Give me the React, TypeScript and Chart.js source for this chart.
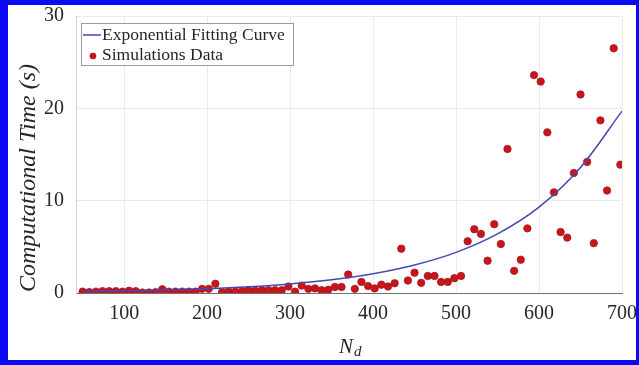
import React, { useEffect, useRef } from 'react';
import { Chart, registerables } from 'chart.js';

Chart.register(...registerables);

// Simulation data: number of devices N_d vs computational time (s)
const nValues = [
  50, 58, 66, 74, 82, 90, 98, 106, 114, 122, 130, 138, 146, 154, 162, 170, 178, 186, 194, 202,
  210, 218, 226, 234, 242, 250, 258, 266, 274, 282, 290, 298, 306, 314, 322, 330, 338, 346, 354, 362,
  370, 378, 386, 394, 402, 410, 418, 426, 434, 442, 450, 458, 466, 474, 482, 490, 498, 506, 514, 522,
  530, 538, 546, 554, 562, 570, 578, 586, 594, 602, 610, 618, 626, 634, 642, 650, 658, 666, 674, 682,
  690, 698,
];
const timeValues = [
  0.15, 0.1, 0.15, 0.2, 0.2, 0.2, 0.15, 0.25, 0.2, 0.05, 0.05, 0.1, 0.4, 0.15, 0.15, 0.15, 0.15, 0.15, 0.45, 0.45,
  1.0, 0.1, 0.15, 0.15, 0.2, 0.3, 0.25, 0.3, 0.3, 0.3, 0.3, 0.7, 0.15, 0.8, 0.45, 0.5, 0.3, 0.35, 0.65, 0.65,
  2.0, 0.45, 1.2, 0.75, 0.5, 0.9, 0.7, 1.05, 4.8, 1.35, 2.2, 1.1, 1.85, 1.85, 1.2, 1.2, 1.6, 1.85, 5.6, 6.9,
  6.4, 3.5, 7.45, 5.3, 15.6, 2.4, 3.6, 7.0, 23.6, 22.9, 17.4, 10.9, 6.6, 6.0, 13.0, 21.5, 14.2, 5.4, 18.7, 11.1,
  26.5, 13.9,
];

// Exponential fitting curve
const fitN = [50, 100, 150, 200, 250, 300, 350, 400, 450, 500, 550, 600, 650, 700];
const fitTime = [0.15, 0.22, 0.32, 0.46, 0.67, 0.98, 1.43, 2.08, 3.03, 4.4, 6.4, 9.3, 13.6, 19.7];

const xTicks = [100, 200, 300, 400, 500, 600, 700];
const yTicks = [0, 10, 20, 30];
const seriesLabels = ['Exponential Fitting Curve', 'Simulations Data'];
const yTitle = 'Computational Time (s)';
const xTitleMain = 'N';
const xTitleSub = 'd';

const FONT = '"Liberation Serif", "Times New Roman", serif';
const LINE_COLOR = '#4646b4';
const DOT_COLOR = '#cc1418';
const DOT_BORDER = '#9a1a2a';
const TEXT_COLOR = '#262626';

const overlayPlugin = {
  id: 'overlay',
  afterDraw(chart: any) {
    const { ctx, chartArea: a } = chart;
    // y title
    ctx.save();
    ctx.translate(a.left - 47, a.top + 162);
    ctx.rotate(-Math.PI / 2);
    ctx.font = `italic 24px ${FONT}`;
    ctx.fillStyle = TEXT_COLOR;
    ctx.textAlign = 'center';
    ctx.textBaseline = 'middle';
    ctx.fillText(yTitle, 0, 0);
    ctx.restore();

    // x title N_d
    ctx.save();
    ctx.fillStyle = TEXT_COLOR;
    ctx.textBaseline = 'alphabetic';
    ctx.textAlign = 'left';
    ctx.font = `italic 21px ${FONT}`;
    const cx = (a.left + a.right) / 2 - 10;
    const base = a.bottom + 60;
    ctx.fillText(xTitleMain, cx, base);
    const w = ctx.measureText(xTitleMain).width;
    ctx.font = `italic 15px ${FONT}`;
    ctx.fillText(xTitleSub, cx + w + 1, base + 3);
    ctx.restore();

    // legend
    ctx.save();
    const lx = a.left + 5.5;
    const ly = a.top + 7.5;
    ctx.fillStyle = '#ffffff';
    ctx.fillRect(lx, ly, 212, 42);
    ctx.strokeStyle = '#9a9a9a';
    ctx.lineWidth = 1;
    ctx.strokeRect(lx, ly, 212, 42);
    ctx.strokeStyle = LINE_COLOR;
    ctx.lineWidth = 1.5;
    ctx.beginPath();
    ctx.moveTo(a.left + 7, a.top + 19);
    ctx.lineTo(a.left + 25, a.top + 19);
    ctx.stroke();
    ctx.beginPath();
    ctx.arc(a.left + 17, a.top + 40, 3.3, 0, Math.PI * 2);
    ctx.fillStyle = DOT_COLOR;
    ctx.fill();
    ctx.font = `17.5px ${FONT}`;
    ctx.fillStyle = TEXT_COLOR;
    ctx.textAlign = 'left';
    ctx.textBaseline = 'middle';
    ctx.fillText(seriesLabels[0], a.left + 26, a.top + 19);
    ctx.fillText(seriesLabels[1], a.left + 26, a.top + 39);
    ctx.restore();
  },
};

export default function App() {
  const canvasRef = useRef<HTMLCanvasElement | null>(null);

  useEffect(() => {
    document.body.style.margin = '0';
    const canvas = canvasRef.current;
    if (!canvas) return;
    const chart = new Chart(canvas, {
      type: 'scatter',
      data: {
        datasets: [
          {
            type: 'line',
            label: seriesLabels[0],
            data: fitN.map((n, i) => ({ x: n, y: fitTime[i] })),
            borderColor: LINE_COLOR,
            borderWidth: 1.5,
            pointRadius: 0,
            fill: false,
            cubicInterpolationMode: 'monotone',
            order: 0,
          } as any,
          {
            type: 'scatter',
            label: seriesLabels[1],
            data: nValues.map((n, i) => ({ x: n, y: timeValues[i] })),
            backgroundColor: DOT_COLOR,
            borderColor: DOT_BORDER,
            borderWidth: 0.8,
            pointRadius: 3.7,
            order: 1,
          },
        ],
      },
      options: {
        animation: false,
        responsive: true,
        maintainAspectRatio: false,
        layout: { padding: { top: 11, right: 14, left: 0, bottom: 0 } },
        plugins: {
          legend: { display: false },
          tooltip: { enabled: false },
        },
        scales: {
          x: {
            type: 'linear',
            min: 42,
            max: 700,
            afterBuildTicks: (s: any) => {
              s.ticks = xTicks.map((v) => ({ value: v }));
            },
            afterFit: (s: any) => {
              s.height = 67;
              s.paddingLeft = 0;
              s.paddingRight = 0;
            },
            grid: { color: '#ebebeb', drawTicks: false },
            border: { color: '#707070', width: 1 },
            ticks: {
              font: { family: FONT, size: 20 },
              color: TEXT_COLOR,
              padding: 9,
              maxRotation: 0,
              autoSkip: false,
            },
          },
          y: {
            type: 'linear',
            min: 0,
            max: 30,
            afterBuildTicks: (s: any) => {
              s.ticks = yTicks.map((v) => ({ value: v }));
            },
            afterFit: (s: any) => {
              s.width = 68;
              s.paddingTop = 0;
              s.paddingBottom = 0;
            },
            grid: { color: '#ebebeb', drawTicks: false },
            border: { color: '#d4d4d4', width: 1 },
            ticks: {
              font: { family: FONT, size: 20 },
              color: TEXT_COLOR,
              padding: 12,
              autoSkip: false,
            },
          },
        },
      },
      plugins: [overlayPlugin],
    });
    return () => chart.destroy();
  }, []);

  return (
    <div
      style={{
        width: 639,
        height: 365,
        boxSizing: 'border-box',
        borderStyle: 'solid',
        borderColor: '#0a0af5',
        borderWidth: '5px 3px 5px 8px',
        background: '#ffffff',
        position: 'relative',
      }}
    >
      <div style={{ position: 'relative', width: 628, height: 355 }}>
        <canvas ref={canvasRef} />
      </div>
    </div>
  );
}
